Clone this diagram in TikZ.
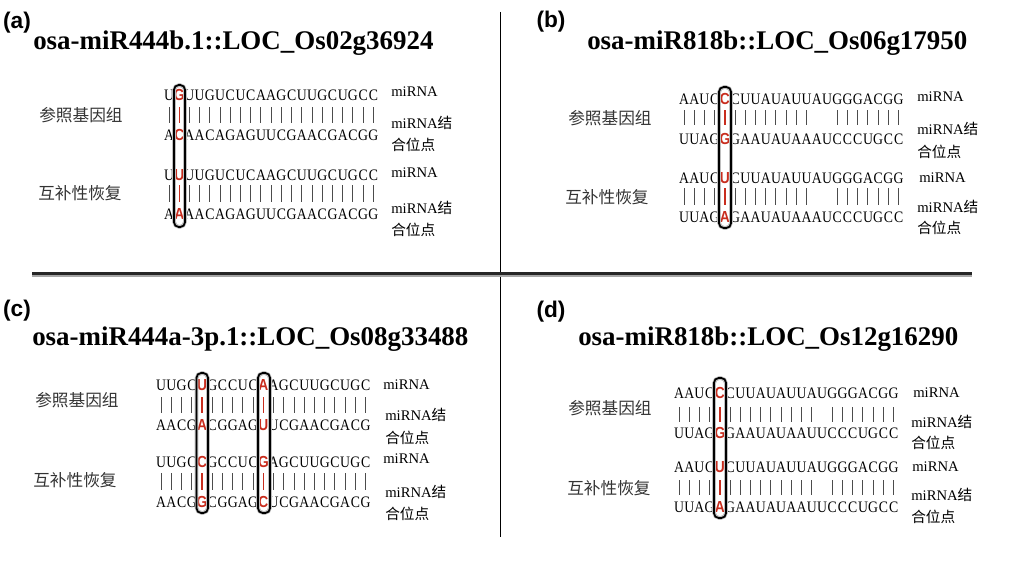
\documentclass[tikz,border=0pt]{standalone}
\usepackage{fontspec}
\setmainfont{Liberation Serif}
\setsansfont{Liberation Sans}
\newfontfamily\cjk{Noto Sans CJK SC}
\newfontfamily\basefont[FakeStretch=0.86]{Liberation Serif}
\newfontfamily\hlfont[FakeStretch=0.86]{Liberation Sans}
\usetikzlibrary{calc}

\definecolor{hlred}{RGB}{200,45,30}

% red, bold letter of a highlighted pair
\newcommand\hl[1]{{\color{hlred}\hlfont\bfseries #1}}

% one row of bases: name, x of first column, baseline, letters
\newcount\seqcol
\def\seqpitch{10.22}
\def\seqstopmark{\seqstop}
\newcommand\seqrow[4]{\def\seqname{#1}\def\seqxa{#2}\def\seqy{#3}\seqcol=0 \seqnext#4\seqstop}
\def\seqnext#1{\def\seqarg{#1}\ifx\seqarg\seqstopmark\else
  \advance\seqcol by 1
  \node[seqletter] (\seqname-\the\seqcol) at ({\seqxa+(\the\seqcol-1)*\seqpitch},\seqy) {#1};
  \expandafter\seqnext\fi}

% one row of pairing bars: x of first column, top, bottom, pattern (| bar, r red bar, . gap)
\newcommand\barrow[4]{\def\seqxa{#1}\def\bartop{#2}\def\barbot{#3}\seqcol=0 \barnext#4\seqstop}
\def\barnext#1{\ifx#1\seqstop\else
  \advance\seqcol by 1
  \pgfmathsetmacro\barx{\seqxa+(\the\seqcol-1)*\seqpitch}
  \if#1|\draw[pairbar] (\barx,\bartop) -- (\barx,\barbot);\fi
  \if#1r\draw[pairbar] (\barx-7,\bartop) -- (\barx-7,\barbot);
    \draw[hlbar] (\barx,\bartop) -- (\barx,\barbot);\fi
  \expandafter\barnext\fi}

\tikzset{
  panel/.style={anchor=center, font=\sffamily\bfseries\fontsize{17}{20}\selectfont},
  title/.style={anchor=base west, inner sep=0pt, font=\bfseries\fontsize{20.2}{24}\selectfont},
  seqletter/.style={anchor=base, inner sep=0pt, font=\basefont\fontsize{12}{14}\selectfont},
  rowname/.style={anchor=west, inner sep=0pt, font=\cjk\fontsize{12.5}{14}\selectfont, text=black!80},
  sidenote/.style={anchor=base west, inner sep=0pt, font=\fontsize{11}{13}\selectfont},
  pairbar/.style={black!70, line width=0.75pt},
  hlbar/.style={hlred, line width=1pt},
  hlbox/.style={draw=black, line width=1.3pt, rounded corners=3.5pt},
  hlshade/.style={draw=black!25, line width=2.8pt, rounded corners=4pt},
  divider/.style={black, line width=1.1pt}
}

\begin{document}
\begin{tikzpicture}[x=0.75pt, y=-0.75pt]
	\useasboundingbox (0,0) rectangle (1020,560);

	% dividers
	\draw[divider] (500.5,12) -- (500.5,537);
	\draw[black!35, line width=3pt] (32,274.5) -- (972,274.5);
	\draw[black!85, line width=1.6pt] (32,273.5) -- (972,273.5);

	% (a)
	\node[panel] (lab-a) at (17,23) {(a)};
	\node[title] (title-a) at (33,49.3) {osa-miR444b.1::LOC\_Os02g36924};
	\node[rowname] (ref-a) at (39,115) {参照基因组};
	\node[rowname] (res-a) at (38,193) {互补性恢复};
	\seqrow{a1}{169}{100}{U{\hl G}UUGUCUCAAGCUUGCUGCC}
	\barrow{169}{107}{123}{|r|||||||||||||||||||}
	\seqrow{a2}{169}{140.5}{A{\hl C}AACAGAGUUCGAACGACGG}
	\seqrow{a3}{169}{180}{U{\hl U}UUGUCUCAAGCUUGCUGCC}
	\barrow{169}{185}{202}{|r|||||||||||||||||||}
	\seqrow{a4}{169}{219}{A{\hl A}AACAGAGUUCGAACGACGG}
	\draw[hlshade] (174,85) rectangle (185,227);
	\draw[hlbox] (174,85) rectangle (185,227);
	\node[sidenote] (mi-a1) at (391,96.7) {miRNA};
	\node[sidenote] (bs-a1) at (391,128) {miRNA{\cjk 结}};
	\node[sidenote] (st-a1) at (391,150) {\cjk 合位点};
	\node[sidenote] (mi-a2) at (391,177) {miRNA};
	\node[sidenote] (bs-a2) at (391,213) {miRNA{\cjk 结}};
	\node[sidenote] (st-a2) at (391,235) {\cjk 合位点};

	% (b)
	\node[panel] (lab-b) at (551,22) {(b)};
	\node[title] (title-b) at (587,50) {osa-miR818b::LOC\_Os06g17950};
	\node[rowname] (ref-b) at (568,118) {参照基因组};
	\node[rowname] (res-b) at (565,197) {互补性恢复};
	\seqrow{b1}{684}{104}{AAUC{\hl C}CUUAUAUUAUGGGACGG}
	\barrow{684}{110}{125}{||||r||||||||..|||||||}
	\seqrow{b2}{684}{144}{UUAG{\hl G}GAAUAUAAAUCCCUGCC}
	\seqrow{b3}{684}{183}{AAUC{\hl U}CUUAUAUUAUGGGACGG}
	\barrow{684}{188}{205}{||||r||||||||..|||||||}
	\seqrow{b4}{684}{222}{UUAG{\hl A}GAAUAUAAAUCCCUGCC}
	\draw[hlshade] (719,87) rectangle (731,228);
	\draw[hlbox] (719,87) rectangle (731,228);
	\node[sidenote] (mi-b1) at (917,101.7) {miRNA};
	\node[sidenote] (bs-b1) at (917,134) {miRNA{\cjk 结}};
	\node[sidenote] (st-b1) at (917,157) {\cjk 合位点};
	\node[sidenote] (mi-b2) at (919,182) {miRNA};
	\node[sidenote] (bs-b2) at (917,212) {miRNA{\cjk 结}};
	\node[sidenote] (st-b2) at (917,233) {\cjk 合位点};

	% (c)
	\node[panel] (lab-c) at (17,311) {(c)};
	\node[title] (title-c) at (32,345) {osa-miR444a-3p.1::LOC\_Os08g33488};
	\node[rowname] (ref-c) at (35,400) {参照基因组};
	\node[rowname] (res-c) at (33,480) {互补性恢复};
	\seqrow{c1}{161.2}{390}{UUGC{\hl U}GCCUC{\hl A}AGCUUGCUGC}
	\barrow{161.2}{397}{413}{||||r|||||r||||||||||}
	\seqrow{c2}{161.2}{430}{AACG{\hl A}CGGAG{\hl U}UCGAACGACG}
	\seqrow{c3}{161.2}{467}{UUGC{\hl C}GCCUC{\hl G}AGCUUGCUGC}
	\barrow{161.2}{473}{490}{||||r|||||r||||||||||}
	\seqrow{c4}{161.2}{507}{AACG{\hl G}CGGAG{\hl C}UCGAACGACG}
	\draw[hlshade] (196.5,373) rectangle (208,513);
	\draw[hlbox] (196.5,373) rectangle (208,513);
	\draw[hlshade] (258,373) rectangle (270,513);
	\draw[hlbox] (258,373) rectangle (270,513);
	\node[sidenote] (mi-c1) at (383,389) {miRNA};
	\node[sidenote] (bs-c1) at (385,420) {miRNA{\cjk 结}};
	\node[sidenote] (st-c1) at (385,443) {\cjk 合位点};
	\node[sidenote] (mi-c2) at (383,463) {miRNA};
	\node[sidenote] (bs-c2) at (385,497) {miRNA{\cjk 结}};
	\node[sidenote] (st-c2) at (385,519) {\cjk 合位点};

	% (d)
	\node[panel] (lab-d) at (551,312) {(d)};
	\node[title] (title-d) at (578,345) {osa-miR818b::LOC\_Os12g16290};
	\node[rowname] (ref-d) at (568,408) {参照基因组};
	\node[rowname] (res-d) at (567,488) {互补性恢复};
	\seqrow{d1}{679}{398}{AAUC{\hl C}CUUAUAUUAUGGGACGG}
	\barrow{679}{407}{422}{||||r|||||||||.|||||||}
	\seqrow{d2}{679}{438}{UUAG{\hl G}GAAUAUAAUUCCCUGCC}
	\seqrow{d3}{679}{472}{AAUC{\hl U}CUUAUAUUAUGGGACGG}
	\barrow{679}{480}{495}{||||r|||||||||.|||||||}
	\seqrow{d4}{679}{512}{UUAG{\hl A}GAAUAUAAUUCCCUGCC}
	\draw[hlshade] (714,378) rectangle (726,518);
	\draw[hlbox] (714,378) rectangle (726,518);
	\node[sidenote] (mi-d1) at (913,397) {miRNA};
	\node[sidenote] (bs-d1) at (911,427) {miRNA{\cjk 结}};
	\node[sidenote] (st-d1) at (911,448) {\cjk 合位点};
	\node[sidenote] (mi-d2) at (912,471) {miRNA};
	\node[sidenote] (bs-d2) at (911,500) {miRNA{\cjk 结}};
	\node[sidenote] (st-d2) at (911,522) {\cjk 合位点};
\end{tikzpicture}
\end{document}
